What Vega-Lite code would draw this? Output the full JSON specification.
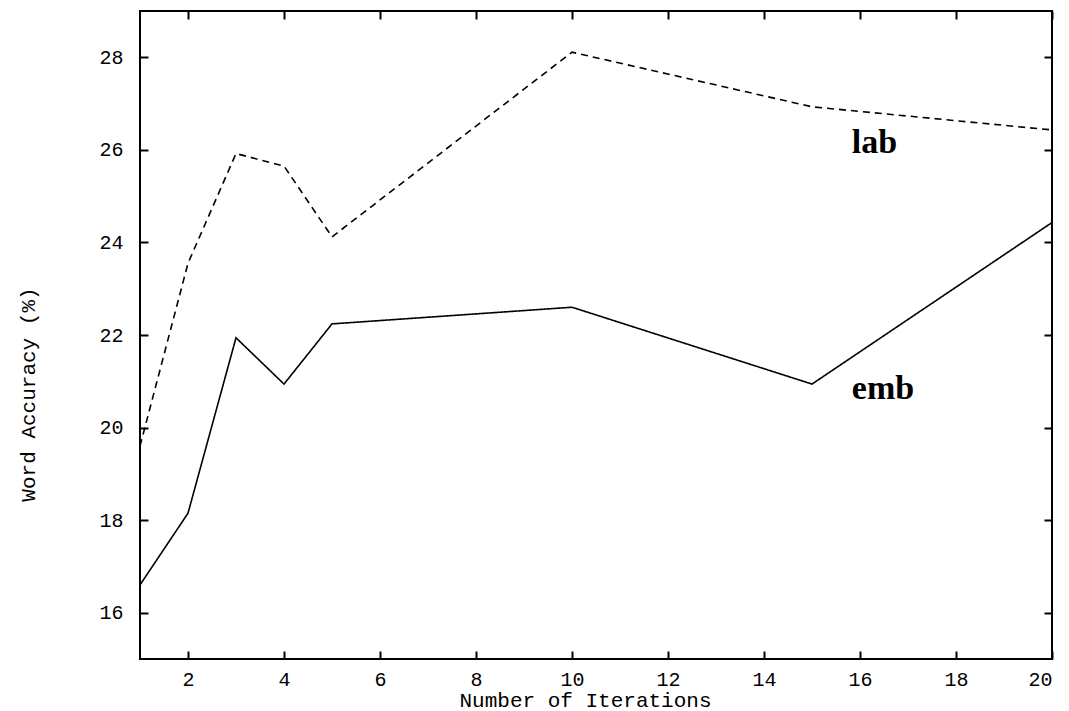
{
  "$schema": "https://vega.github.io/schema/vega-lite/v6.json",
  "width": 912,
  "height": 648,
  "autosize": {"type": "none"},
  "padding": {"left": 140, "top": 11, "right": 17, "bottom": 52},
  "background": "white",
  "config": {
    "view": {"stroke": "black", "strokeWidth": 2},
    "axis": {
      "domain": false,
      "grid": false,
      "ticks": true,
      "tickSize": -8,
      "tickWidth": 2,
      "tickColor": "black",
      "labelFont": "Liberation Mono",
      "labelFontSize": 20,
      "labelColor": "black",
      "titleFont": "Liberation Mono",
      "titleFontSize": 21,
      "titleFontWeight": "normal",
      "titleColor": "black"
    }
  },
  "resolve": {"axis": {"x": "independent", "y": "independent"}},
  "layer": [
    {
      "data": {
        "values": [
          {"iter": 1, "series": "lab", "acc": 19.6},
          {"iter": 2, "series": "lab", "acc": 23.55},
          {"iter": 3, "series": "lab", "acc": 25.92},
          {"iter": 4, "series": "lab", "acc": 25.65},
          {"iter": 5, "series": "lab", "acc": 24.12},
          {"iter": 10, "series": "lab", "acc": 28.11},
          {"iter": 15, "series": "lab", "acc": 26.93},
          {"iter": 20, "series": "lab", "acc": 26.43},
          {"iter": 1, "series": "emb", "acc": 16.6},
          {"iter": 2, "series": "emb", "acc": 18.15},
          {"iter": 3, "series": "emb", "acc": 21.94},
          {"iter": 4, "series": "emb", "acc": 20.94},
          {"iter": 5, "series": "emb", "acc": 22.24},
          {"iter": 10, "series": "emb", "acc": 22.6},
          {"iter": 15, "series": "emb", "acc": 20.94},
          {"iter": 20, "series": "emb", "acc": 24.43}
        ]
      },
      "mark": {"type": "line", "color": "black", "strokeWidth": 1.6, "clip": true},
      "encoding": {
        "x": {
          "field": "iter", "type": "quantitative",
          "scale": {"domain": [1, 20], "nice": false, "zero": false},
          "axis": {
            "orient": "bottom",
            "values": [2, 4, 6, 8, 10, 12, 14, 16, 18, 20],
            "labelPadding": 18,
            "title": "Number of Iterations",
            "titleX": 445,
            "titleY": 47,
            "titleBaseline": "alphabetic",
            "titleAnchor": null
          }
        },
        "y": {
          "field": "acc", "type": "quantitative",
          "scale": {"domain": [15, 29], "nice": false, "zero": false},
          "axis": {
            "orient": "left",
            "values": [16, 18, 20, 22, 24, 26, 28],
            "labelPadding": 25,
            "title": "Word Accuracy (%)",
            "titleX": -112,
            "titleY": 383,
            "titleBaseline": "middle",
            "titleAngle": -90
          }
        },
        "detail": {"field": "series"},
        "strokeDash": {
          "field": "series", "type": "nominal",
          "scale": {"domain": ["lab", "emb"], "range": [[7, 5], [1, 0]]},
          "legend": null
        }
      }
    },
    {
      "data": {
        "values": [
          {"iter": 15.83, "acc": 25.93, "label": "lab"},
          {"iter": 15.83, "acc": 20.62, "label": "emb"}
        ]
      },
      "mark": {"type": "text", "font": "Liberation Serif", "fontWeight": "bold", "fontSize": 34, "align": "left", "baseline": "alphabetic", "color": "black"},
      "encoding": {
        "x": {"field": "iter", "type": "quantitative", "axis": {"orient": "top", "labels": false, "title": null, "values": [2, 4, 6, 8, 10, 12, 14, 16, 18, 20]}},
        "y": {"field": "acc", "type": "quantitative", "axis": {"orient": "right", "labels": false, "title": null, "values": [16, 18, 20, 22, 24, 26, 28]}},
        "text": {"field": "label"}
      }
    }
  ]
}
